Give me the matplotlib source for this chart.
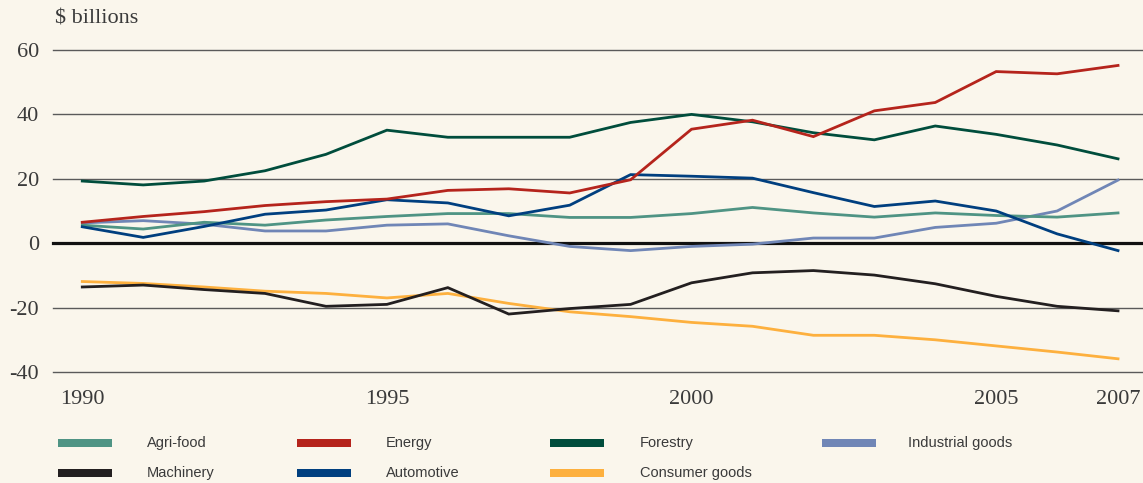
import matplotlib.pyplot as plt
from matplotlib.patches import Rectangle

years = list(range(1990, 2008))

agri_food = [5.6, 4.4, 6.5, 5.6, 7.2, 8.3, 9.2, 9.2, 8.0, 8.0, 9.2, 11.1, 9.4, 8.1, 9.4, 8.6, 8.1, 9.4]
energy = [6.5, 8.3, 9.8, 11.7, 12.9, 13.7, 16.4, 16.9, 15.6, 19.7, 35.4, 38.2, 33.1, 41.1, 43.7, 53.3, 52.6, 55.2]
forestry = [19.3, 18.1, 19.3, 22.5, 27.6, 35.1, 32.9, 32.9, 32.9, 37.5, 40.0, 37.7, 34.3, 32.1, 36.4, 33.8, 30.5, 26.2]
industrial = [6.3, 7.0, 5.9, 3.8, 3.8, 5.6, 6.0, 2.3, -1.0, -2.3, -1.0, -0.3, 1.6, 1.6, 4.9, 6.2, 10.0, 19.6]
machinery = [-13.6, -13.0, -14.4, -15.6, -19.6, -19.0, -13.8, -22.0, -20.3, -19.0, -12.3, -9.2, -8.5, -9.9, -12.6, -16.5, -19.6, -21.0]
automotive = [5.1, 1.8, 5.2, 9.0, 10.3, 13.5, 12.5, 8.5, 11.8, 21.3, 20.8, 20.2, 15.7, 11.4, 13.1, 10.0, 2.9, -2.3]
consumer = [-11.9, -12.5, -13.6, -14.9, -15.6, -17.0, -15.6, -18.7, -21.3, -22.8, -24.6, -25.8, -28.6, -28.6, -30.0, -31.9, -33.8, -35.9]

names = ["Agri-food", "Energy", "Forestry", "Industrial goods",
         "Machinery", "Automotive", "Consumer goods"]
series = [agri_food, energy, forestry, industrial, machinery, automotive, consumer]
colors = ["#4f9484", "#b5241c", "#004d3c", "#7086b6", "#231f20", "#003f7f", "#fdb03e"]

xticks = [1990, 1995, 2000, 2005, 2007]
yticks = [-40, -20, 0, 20, 40, 60]

bg = "#faf6ec"
txt = "#3a3a3a"
serif = ["Liberation Serif", "DejaVu Serif"]

fig = plt.figure(figsize=(11.43, 4.83), dpi=100, facecolor=bg)
ax = fig.add_axes([0.0464, 0.2298, 0.9536, 0.6667], facecolor=bg)

for v in yticks:
    if v == 0:
        ax.axhline(v, color="#111111", lw=2.3, zorder=1, clip_on=False)
    else:
        ax.axhline(v, color="#5a5a5a", lw=1.0, zorder=1, clip_on=False)

# draw in an order similar to the original (forestry/energy on top of others)
order = [6, 4, 3, 0, 5, 2, 1]
for i in order:
    ax.plot(years, series[i], color=colors[i], lw=2.0, zorder=3,
            solid_joinstyle="miter")

ax.set_xlim(1989.52, 2007.41)
ax.set_ylim(-40, 60)
for s in ax.spines.values():
    s.set_visible(False)
ax.tick_params(length=0)
ax.set_yticks(yticks)
ax.set_yticklabels([str(v) for v in yticks], family=serif, fontsize=16, color=txt)
ax.tick_params(axis="y", pad=10)
ax.set_xticks(xticks)
ax.set_xticklabels([str(v) for v in xticks], family=serif, fontsize=16, color=txt)
ax.tick_params(axis="x", pad=13)

fig.text(55 / 1143, 1 - 19 / 483, "$ billions", family=serif, fontsize=16,
         color=txt, va="center", ha="left")

# legend laid out by hand: 4 columns, 2 rows
col_x = [58, 297, 550, 822]
lab_x = [147, 386, 640, 908]
row_y = [443, 473]
W, H = 1143, 483
for k, (name, c) in enumerate(zip(names, colors)):
    r, cidx = divmod(k, 4)
    x0 = col_x[cidx]
    y0 = row_y[r]
    fig.add_artist(Rectangle((x0 / W, 1 - (y0 + 4) / H), 54 / W, 8 / H,
                             transform=fig.transFigure, color=c, lw=0))
    fig.text(lab_x[cidx] / W, 1 - y0 / H, name,
             family=["Liberation Sans", "DejaVu Sans"], fontsize=10.5,
             color=txt, va="center", ha="left")

fig.savefig("out.png", dpi=100, facecolor=bg)
